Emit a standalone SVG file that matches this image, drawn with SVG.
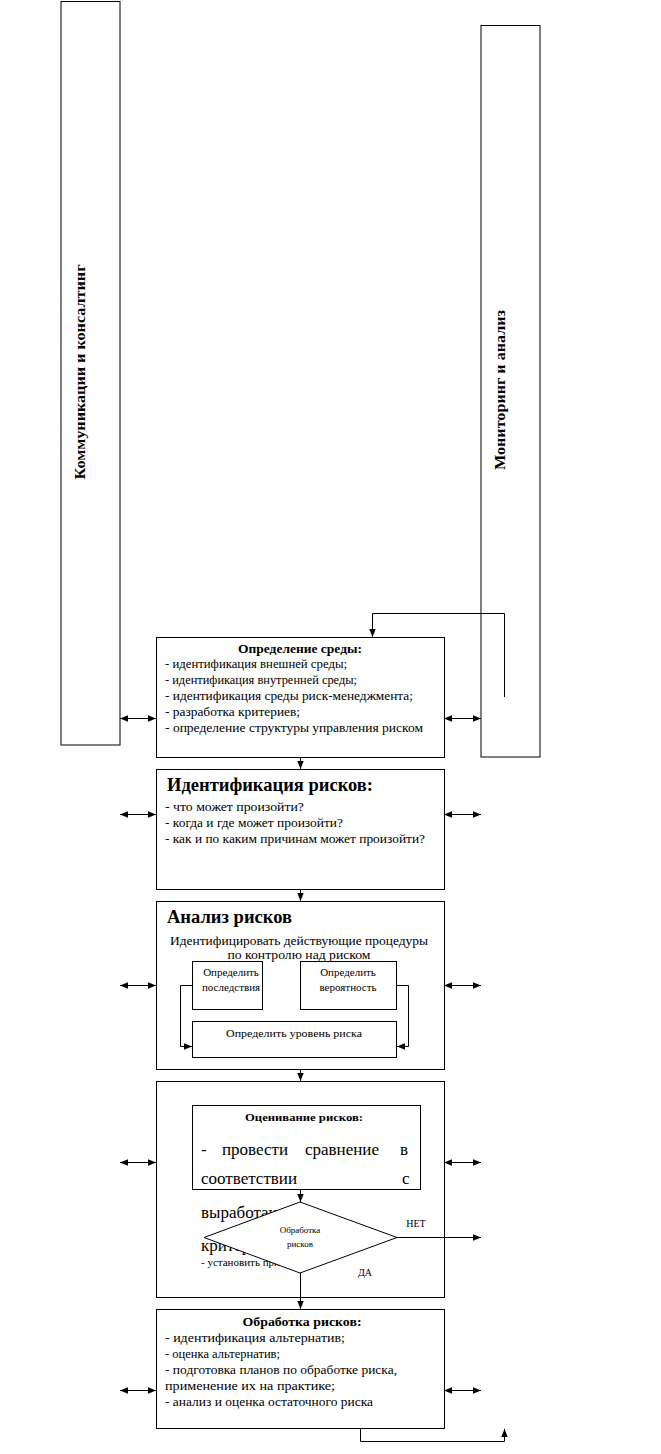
<svg xmlns="http://www.w3.org/2000/svg" width="661" height="1454" viewBox="0 0 661 1454">
<style>
.box{fill:#fff;stroke:#000;stroke-width:1}
.ln{fill:none;stroke:#000;stroke-width:1}
text{font-family:"Liberation Serif","Times New Roman",serif;fill:#000}
.t{font-size:13px}
.tb{font-size:12px;font-weight:bold}
.th{font-size:18px;font-weight:bold}
.tr{font-size:15px;font-weight:bold}
.ts{font-size:11px}
.tx{font-size:9px}
.big{font-size:17px}
</style>
<defs>
<marker id="a" viewBox="0 0 8 8" refX="8" refY="4" markerWidth="8" markerHeight="8" markerUnits="userSpaceOnUse" orient="auto-start-reverse">
<path d="M0,0.8 L8,4 L0,7.2 Z" fill="#000"/>
</marker>
</defs>
<g id="comm">
<rect class="box" x="61" y="1.5" width="59" height="743.5"/>
<text class="tr" transform="translate(85,372) rotate(-90)" text-anchor="middle" textLength="215" lengthAdjust="spacingAndGlyphs">Коммуникации и консалтинг</text>
</g>
<g id="monitor">
<rect class="box" x="481" y="25.5" width="59" height="731.5"/>
<text class="tr" transform="translate(505,390) rotate(-90)" text-anchor="middle" textLength="160" lengthAdjust="spacingAndGlyphs">Мониторинг и анализ</text>
</g>
<g id="context">
<rect class="box" x="156.5" y="637.5" width="288" height="120"/>
<text class="tb" x="300" y="653" text-anchor="middle" textLength="124" lengthAdjust="spacingAndGlyphs">Определение среды:</text>
<text class="t" x="165" y="668" textLength="182" lengthAdjust="spacingAndGlyphs">- идентификация внешней среды;</text>
<text class="t" x="165" y="684" textLength="192" lengthAdjust="spacingAndGlyphs">- идентификация внутренней среды;</text>
<text class="t" x="165" y="700" textLength="248" lengthAdjust="spacingAndGlyphs">- идентификация среды риск-менеджмента;</text>
<text class="t" x="165" y="716" textLength="135" lengthAdjust="spacingAndGlyphs">- разработка критериев;</text>
<text class="t" x="165" y="732" textLength="258" lengthAdjust="spacingAndGlyphs">- определение структуры управления риском</text>
</g>
<g id="identify">
<rect class="box" x="156.5" y="769.5" width="288" height="120"/>
<text class="th" x="167" y="791" textLength="206" lengthAdjust="spacingAndGlyphs">Идентификация рисков:</text>
<text class="t" x="165" y="811" textLength="139" lengthAdjust="spacingAndGlyphs">- что может произойти?</text>
<text class="t" x="165" y="827" textLength="178" lengthAdjust="spacingAndGlyphs">- когда и где может произойти?</text>
<text class="t" x="165" y="843" textLength="260" lengthAdjust="spacingAndGlyphs">- как и по каким причинам может произойти?</text>
</g>
<g id="analysis">
<rect class="box" x="156.5" y="901.5" width="288" height="168"/>
<text class="th" x="167" y="923" textLength="125" lengthAdjust="spacingAndGlyphs">Анализ рисков</text>
<text class="t" x="299" y="945" text-anchor="middle" textLength="258" lengthAdjust="spacingAndGlyphs">Идентифицировать действующие процедуры</text>
<text class="t" x="299" y="959" text-anchor="middle" textLength="143" lengthAdjust="spacingAndGlyphs">по контролю над риском</text>
</g>
<g id="consequences">
<rect class="box" x="192.5" y="961.5" width="70" height="48"/>
<text class="ts" x="231" y="976" text-anchor="middle">Определить</text>
<text class="ts" x="231" y="991" text-anchor="middle">последствия</text>
</g>
<g id="probability">
<rect class="box" x="300.5" y="961.5" width="96" height="48"/>
<text class="ts" x="348" y="976" text-anchor="middle">Определить</text>
<text class="ts" x="348" y="991" text-anchor="middle">вероятность</text>
</g>
<g id="level">
<rect class="box" x="192.5" y="1021.5" width="204" height="36"/>
<text class="ts" x="294" y="1037" text-anchor="middle" textLength="136" lengthAdjust="spacingAndGlyphs">Определить уровень риска</text>
</g>
<g id="evaluation">
<rect class="box" x="156.5" y="1081.5" width="288" height="216"/>
</g>
<g id="eval-inner">
<rect class="box" x="192.5" y="1105.5" width="228" height="84"/>
<text class="tb" x="304" y="1121" text-anchor="middle" style="font-size:11px" textLength="118" lengthAdjust="spacingAndGlyphs">Оценивание рисков:</text>
<text class="big" y="1155"><tspan x="201">-</tspan><tspan x="222">провести</tspan><tspan x="305">сравнение</tspan><tspan x="400">в</tspan></text>
<text class="big" y="1184"><tspan x="201">соответствии</tspan><tspan x="402">с</tspan></text>
<text class="big" x="201" y="1218">выработанными</text>
<text class="big" x="201" y="1251">критериями;</text>
<text class="ts" x="201" y="1266">- установить приоритеты</text>
</g>
<g id="decision">
<polygon class="box" points="300,1202 397,1237.5 300,1273 204,1237.5"/>
<text class="tx" x="300" y="1233" text-anchor="middle">Обработка</text>
<text class="tx" x="300" y="1247" text-anchor="middle">рисков</text>
<text class="tx" x="416" y="1227" text-anchor="middle" style="font-size:10px">НЕТ</text>
<text class="tx" x="365" y="1276" text-anchor="middle" style="font-size:10px">ДА</text>
</g>
<g id="treatment">
<rect class="box" x="156.5" y="1309.5" width="288" height="119"/>
<text class="tb" x="302" y="1326" text-anchor="middle" textLength="119" lengthAdjust="spacingAndGlyphs">Обработка рисков:</text>
<text class="t" x="165" y="1342" textLength="180" lengthAdjust="spacingAndGlyphs">- идентификация альтернатив;</text>
<text class="t" x="165" y="1358" textLength="115" lengthAdjust="spacingAndGlyphs">- оценка альтернатив;</text>
<text class="t" x="165" y="1374" textLength="232" lengthAdjust="spacingAndGlyphs">- подготовка планов по обработке риска,</text>
<text class="t" x="165" y="1390" textLength="170" lengthAdjust="spacingAndGlyphs">применение их на практике;</text>
<text class="t" x="165" y="1406" textLength="208" lengthAdjust="spacingAndGlyphs">- анализ и оценка остаточного риска</text>
</g>
<g id="connectors">
<polyline class="ln" points="504.5,697 504.5,613.5 372.5,613.5 372.5,637" marker-end="url(#a)"/>
<line class="ln" x1="300.5" y1="757" x2="300.5" y2="769" marker-end="url(#a)"/>
<line class="ln" x1="300.5" y1="889" x2="300.5" y2="901" marker-end="url(#a)"/>
<line class="ln" x1="300.5" y1="1069" x2="300.5" y2="1081" marker-end="url(#a)"/>
<line class="ln" x1="300.5" y1="1189" x2="300.5" y2="1202" marker-end="url(#a)"/>
<line class="ln" x1="300.5" y1="1273" x2="300.5" y2="1309" marker-end="url(#a)"/>
<line class="ln" x1="397" y1="1237.5" x2="481" y2="1237.5" marker-end="url(#a)"/>
<polyline class="ln" points="192,985.5 180.5,985.5 180.5,1046.5 192,1046.5" marker-end="url(#a)"/>
<polyline class="ln" points="397,985.5 408.5,985.5 408.5,1046.5 397,1046.5" marker-end="url(#a)"/>
<polyline class="ln" points="360.5,1429 360.5,1441.5 504.5,1441.5 504.5,1429" marker-end="url(#a)"/>
<line class="ln" x1="120" y1="718.5" x2="156" y2="718.5" marker-start="url(#a)" marker-end="url(#a)"/>
<line class="ln" x1="444" y1="718.5" x2="481" y2="718.5" marker-start="url(#a)" marker-end="url(#a)"/>
<line class="ln" x1="120" y1="814.5" x2="156" y2="814.5" marker-start="url(#a)" marker-end="url(#a)"/>
<line class="ln" x1="444" y1="814.5" x2="481" y2="814.5" marker-start="url(#a)" marker-end="url(#a)"/>
<line class="ln" x1="120" y1="985.5" x2="156" y2="985.5" marker-start="url(#a)" marker-end="url(#a)"/>
<line class="ln" x1="444" y1="985.5" x2="481" y2="985.5" marker-start="url(#a)" marker-end="url(#a)"/>
<line class="ln" x1="120" y1="1162.5" x2="156" y2="1162.5" marker-start="url(#a)" marker-end="url(#a)"/>
<line class="ln" x1="444" y1="1162.5" x2="481" y2="1162.5" marker-start="url(#a)" marker-end="url(#a)"/>
<line class="ln" x1="120" y1="1390.5" x2="156" y2="1390.5" marker-start="url(#a)" marker-end="url(#a)"/>
<line class="ln" x1="444" y1="1390.5" x2="481" y2="1390.5" marker-start="url(#a)" marker-end="url(#a)"/>
</g>
</svg>
